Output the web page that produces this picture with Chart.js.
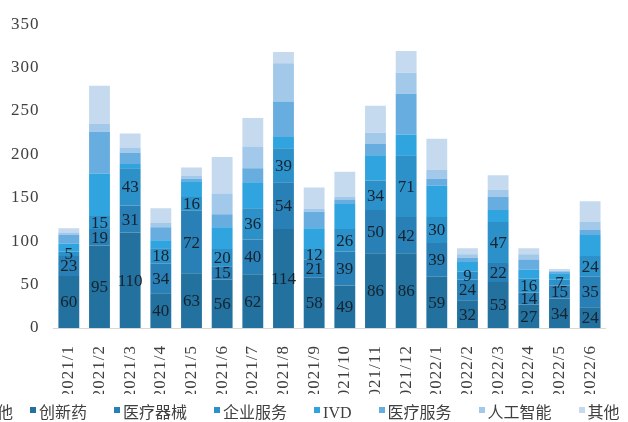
<!DOCTYPE html>
<html>
<head>
<meta charset="utf-8">
<script src="https://cdn.jsdelivr.net/npm/chart.js@4"></script>
<style>
  html, body { margin: 0; padding: 0; background: #fff; }
  #wrap { position: relative; width: 628px; height: 422px; overflow: hidden; }
  #legend {
    position: absolute; left: 0; top: 403px; height: 20px;
    display: flex; align-items: center; white-space: nowrap;
    font: 16px/20px "Liberation Serif", "Noto Sans CJK SC", sans-serif;
    color: #404040;
  }
  #legend .item { display: flex; align-items: center; margin-left: 27px; }
  #legend .box { width: 6px; height: 6px; margin-right: 3px; position: relative; top: -3px; }
  #legend .cut { margin-left: -3px; margin-right: -10px; }
</style>
</head>
<body>
<div id="wrap">
  <canvas id="c"></canvas>
  <div id="legend"></div>
</div>
<script>
const months = ['2021/1','2021/2','2021/3','2021/4','2021/5','2021/6','2021/7','2021/8','2021/9',
  '2021/10','2021/11','2021/12','2022/1','2022/2','2022/3','2022/4','2022/5','2022/6'];
const drug    = [60, 95, 110, 40, 63, 56, 62, 114, 58, 49, 86, 86, 59, 32, 53, 27, 34, 24];
const device  = [23, 19, 31, 34, 72, 15, 40, 54, 21, 39, 50, 42, 39, 24, 22, 14, 15, 35];
const service = [5, 15, 43, 18, 16, 20, 36, 39, 12, 26, 34, 71, 30, 9, 47, 16, 7, 24];
const ivd     = [9, 49, 5, 9, 18, 25, 30, 13, 24, 29, 29, 24, 36, 12, 14, 10, 7, 24];
const medical = [10, 48, 13, 15, 3, 15, 16, 41, 19, 5, 13, 47, 8, 4, 15, 12, 2, 6];
const ai      = [3, 9, 6, 5, 3, 24, 25, 44, 3, 3, 13, 24, 10, 4, 8, 6, 1, 9];
const other   = [5, 44, 16, 17, 10, 42, 33, 13, 25, 29, 31, 25, 36, 7, 17, 7, 2, 24];

const names  = ['创新药', '医疗器械', '企业服务', 'IVD', '医疗服务', '人工智能', '其他'];
const series = [drug, device, service, ivd, medical, ai, other];
const colors = ['#22719e', '#2980b6', '#2c90c9', '#2fa4df', '#68ade0', '#a2c8ea', '#c6daef'];

const serif = '"Liberation Serif", "Times New Roman", serif';

// value labels on the three bottom series
const segLabels = {
  id: 'segLabels',
  afterDatasetsDraw(chart) {
    const ctx = chart.ctx;
    ctx.save();
    ctx.letterSpacing = '0px';
    ctx.font = '17px ' + serif;
    ctx.fillStyle = '#16222e';
    ctx.textAlign = 'center';
    ctx.textBaseline = 'middle';
    [0, 1, 2].forEach(i => {
      chart.getDatasetMeta(i).data.forEach((bar, j) => {
        ctx.fillText(series[i][j], bar.x, (bar.y + bar.base) / 2 + 1);
      });
    });
    ctx.restore();
  }
};

// the month labels are a little spaced out in the original
const spacedTicks = {
  id: 'spacedTicks',
  beforeDraw(chart) { chart.ctx.letterSpacing = '1px'; },
  beforeDatasetsDraw(chart) { chart.ctx.letterSpacing = '0px'; }
};

new Chart(document.getElementById('c'), {
  type: 'bar',
  data: {
    labels: months,
    datasets: series.map((d, i) => ({
      label: names[i],
      data: d,
      backgroundColor: colors[i],
      borderWidth: 0,
      barPercentage: 0.68,
      categoryPercentage: 1
    }))
  },
  options: {
    responsive: true,
    maintainAspectRatio: false,
    animation: false,
    layout: { padding: { left: 0, right: 17, top: 14, bottom: 28 } },
    plugins: {
      title: { display: false },
      tooltip: { enabled: false },
      legend: { display: false }
    },
    scales: {
      x: {
        stacked: true,
        grid: { display: false, drawTicks: false },
        border: { display: true, color: '#d9d9d9' },
        ticks: {
          minRotation: 90, maxRotation: 90, padding: 17,
          color: '#404040',
          font: { size: 17, family: serif }
        },
        afterFit(scale) { scale.height = 66; }
      },
      y: {
        stacked: true,
        min: 0, max: 350,
        grid: { display: false, drawTicks: false },
        border: { display: false },
        ticks: {
          stepSize: 50, padding: 14,
          color: '#404040',
          font: { size: 17, family: serif }
        }
      }
    }
  },
  plugins: [segLabels, spacedTicks]
});

// legend row under the chart (cut off at the left in the original)
const legend = document.getElementById('legend');
const cut = document.createElement('span');
cut.className = 'cut';
cut.textContent = '他';
legend.appendChild(cut);
names.forEach((n, i) => {
  const item = document.createElement('span');
  item.className = 'item';
  const box = document.createElement('span');
  box.className = 'box';
  box.style.background = colors[i];
  const txt = document.createElement('span');
  txt.textContent = n;
  item.appendChild(box);
  item.appendChild(txt);
  legend.appendChild(item);
});
</script>
</body>
</html>
